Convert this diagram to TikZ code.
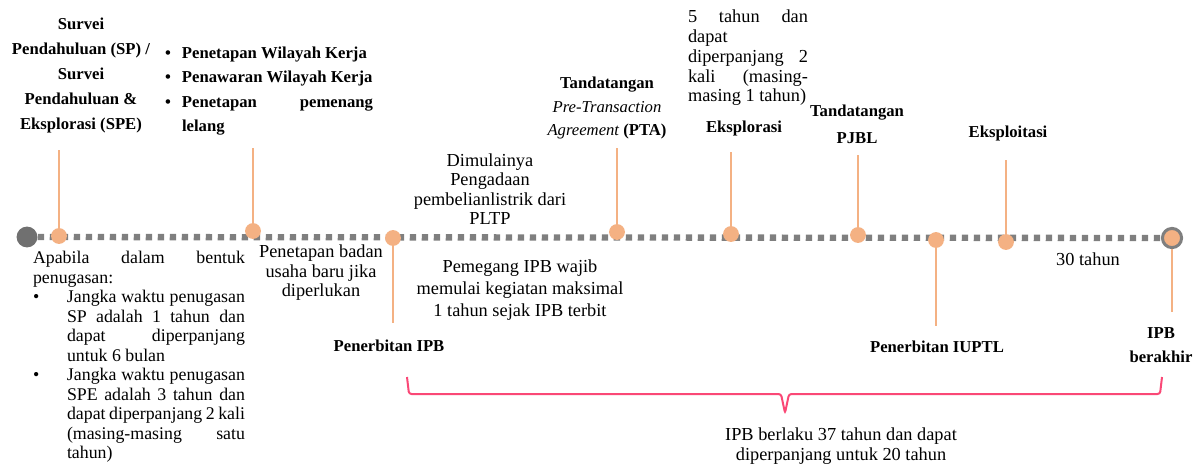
\documentclass[tikz,border=0pt]{standalone}
\usepackage{fontspec}
\setmainfont{Liberation Serif}
\usetikzlibrary{positioning}
\definecolor{dotorange}{RGB}{244,177,131}
\definecolor{axisgray}{RGB}{127,127,127}
\definecolor{startgray}{RGB}{112,112,112}
\definecolor{bracepink}{RGB}{250,72,118}
\newcommand{\jline}[2]{\makebox[#1][s]{#2}}
\newcommand{\bul}[1]{\makebox[#1][l]{\textbullet}}

\begin{document}
\begin{tikzpicture}[x=.6pt, y=-.6pt,
    dot/.style={circle, fill=dotorange, inner sep=0pt, minimum size=9.5pt},
    stem/.style={draw=dotorange, line width=1.7pt},
    axis/.style={draw=axisgray, line width=3.8pt, dash pattern=on 3.8pt off 3.4pt},
    brace/.style={draw=bracepink, line width=1.2pt, rounded corners=1.5pt},
    lbl/.style={font=\fontsize{10}{15}\selectfont\bfseries, align=center, inner sep=0pt},
    txt/.style={font=\fontsize{11}{11.7}\selectfont, align=center, inner sep=0pt}]
    \useasboundingbox (0,0) rectangle (1198,466);

    \node[circle, fill=startgray, inner sep=0pt, minimum size=12.5pt] (start) at (27,237) {};
    \node[circle, fill=dotorange, draw=axisgray, line width=1.8pt, inner sep=0pt, minimum size=11.5pt] (end) at (1172,238) {};
    \draw[axis] (start) -- (end);

    \foreach \n/\x/\y in {a/59/236, b/253/231, c/393/238, d/617/232, e/731/234, f/858/235, g/936/240, h/1006/242}
        \node[dot] (d\n) at (\x,\y) {};
    \foreach \n/\x/\y in {a/59/150, b/253/148, c/393/323, d/617/148, e/731/152, f/858/155, g/936/326, h/1006/160}
        \coordinate (s\n) at (\x,\y);
    \coordinate (send) at (1172,312);
    \foreach \n in {a,b,c,d,e,f,g,h}
        \draw[stem] (d\n) -- (s\n);
    \draw[stem] (end) -- (send);

    \node[lbl] (lsp) at (81,75) {Survei\\Pendahuluan (SP) /\\Survei\\Pendahuluan \&\\Eksplorasi (SPE)};
    \node[lbl, align=left, font=\fontsize{10}{14.7}\selectfont\bfseries] (lwk) at (269,91)
        {\bul{10.2pt}Penetapan Wilayah Kerja\\
         \bul{10.2pt}Penawaran Wilayah Kerja\\
         \bul{10.2pt}\jline{114.6pt}{Penetapan pemenang}\\
         \hspace*{10.2pt}lelang};
    \node[lbl] (lipb) at (389,346) {Penerbitan IPB};
    \node[lbl, font=\fontsize{10}{14}\selectfont\bfseries] (lpta) at (607,108)
        {Tandatangan\\{\mdseries\itshape Pre-Transaction}\\{\mdseries\itshape Agreement} (PTA)};
    \node[lbl] (leks) at (744,128) {Eksplorasi};
    \node[lbl, font=\fontsize{10}{16}\selectfont\bfseries] (lpjbl) at (857,124) {Tandatangan\\PJBL};
    \node[lbl] (liuptl) at (937,347) {Penerbitan IUPTL};
    \node[lbl] (lexp) at (1008,133) {Eksploitasi};
    \node[lbl, font=\fontsize{10}{14.4}\selectfont\bfseries] (lend) at (1161,345) {IPB\\berakhir};

    \node[txt, align=left, font=\fontsize{10.7}{11.7}\selectfont] (lapa) at (139,357)
        {\jline{127.2pt}{Apabila dalam bentuk}\\
         penugasan:\\
         \bul{20.4pt}\jline{106.8pt}{Jangka waktu penugasan}\\
         \hspace*{20.4pt}\jline{106.8pt}{SP adalah 1 tahun dan}\\
         \hspace*{20.4pt}\jline{106.8pt}{dapat diperpanjang}\\
         \hspace*{20.4pt}untuk 6 bulan\\
         \bul{20.4pt}\jline{106.8pt}{Jangka waktu penugasan}\\
         \hspace*{20.4pt}\jline{106.8pt}{SPE adalah 3 tahun dan}\\
         \hspace*{20.4pt}\jline{106.8pt}{dapat diperpanjang 2 kali}\\
         \hspace*{20.4pt}\jline{106.8pt}{(masing-masing satu}\\
         \hspace*{20.4pt}tahun)};
    \node[txt] (lbad) at (321,273) {Penetapan badan\\usaha baru jika\\diperlukan};
    \node[txt] (ldim) at (490,189) {Dimulainya\\Pengadaan\\pembelianlistrik dari\\PLTP};
    \node[txt, font=\fontsize{11}{13.2}\selectfont] (lpem) at (520,290)
        {Pemegang IPB wajib\\memulai kegiatan maksimal\\1 tahun sejak IPB terbit};
    \node[txt, align=left, font=\fontsize{11}{11.85}\selectfont] (l5th) at (748,58)
        {\jline{72pt}{5 tahun dan}\\
         dapat\\
         \jline{72pt}{diperpanjang 2}\\
         \jline{72pt}{kali (masing-}\\
         masing 1 tahun)};
    \node[txt] (l30) at (1088,259) {30 tahun};

    \coordinate (bl) at (407,377);
    \coordinate (br) at (1162,377);
    \coordinate (bt) at (785,413);
    \draw[brace] (bl) -- (409,394) -- (781,394) -- (bt) -- (789,394) -- (1160,394) -- (br);
    \node[txt, font=\fontsize{11}{12}\selectfont] (lbrc) at (841,446)
        {IPB berlaku 37 tahun dan dapat\\diperpanjang untuk 20 tahun};

\end{tikzpicture}
\end{document}
